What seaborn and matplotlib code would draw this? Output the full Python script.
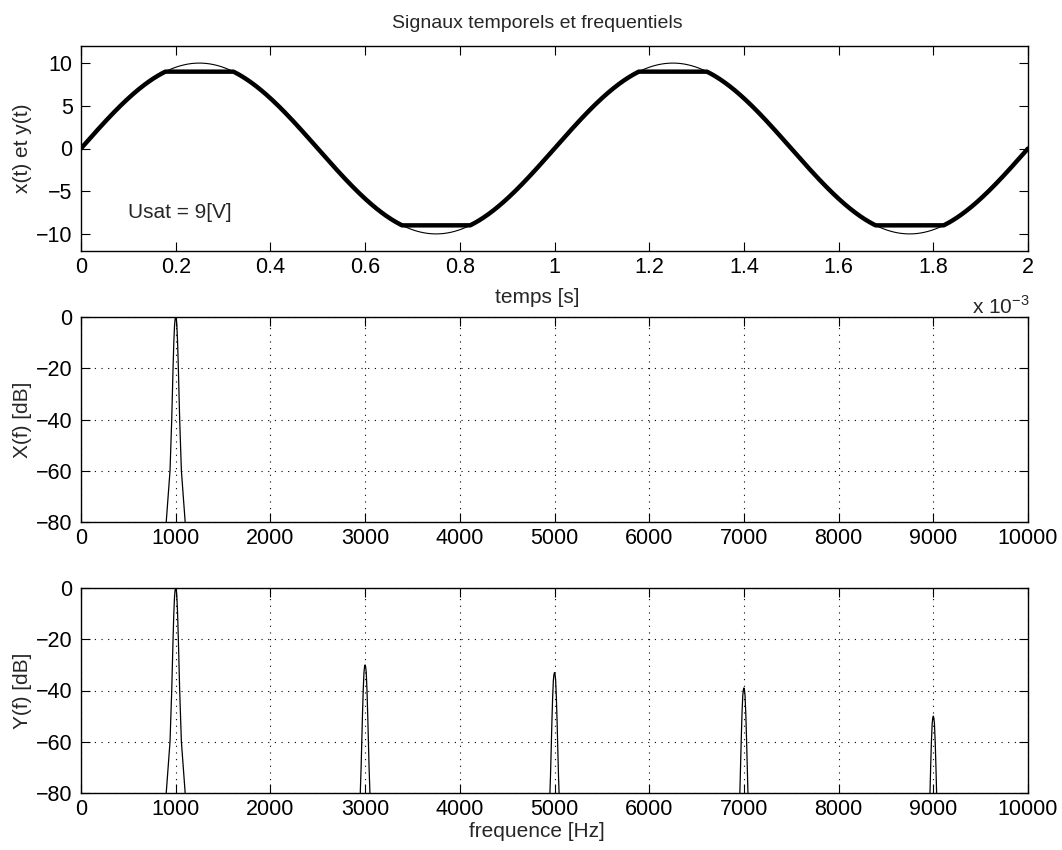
import numpy as np
import pandas as pd
import matplotlib
matplotlib.use("Agg")
import matplotlib.pyplot as plt
import seaborn as sns

# Signal parameters (time axis in ms, labelled with a x 10^-3 multiplier)
AMPLITUDE = 10.0        # peak of x(t) [V]
PERIOD_MS = 1.0         # 1 kHz sine
USAT = 9.0              # saturation level of y(t) [V]
T_END_MS = 2.0

# Spectral lines of the saturated signal: harmonic frequency [Hz] and level [dB]
X_PEAK_FREQS = [1000]
X_PEAK_LEVELS = [0]
Y_PEAK_FREQS = [1000, 3000, 5000, 7000, 9000]
Y_PEAK_LEVELS = [0, -30, -33, -39, -50]

# Shape of one spectral lobe: offset from the line [Hz] and drop from its top [dB]
LOBE_OFFSET_HZ = [-100, -60, -42, -35, -28, -20, -12, -6, 0, 6, 12, 20, 28, 35, 42, 60, 100]
LOBE_DROP_DB = [-80, -60, -40, -30, -20, -10, -3, -0.8, 0, -0.8, -3, -10, -20, -30, -40, -60, -80]

TIME_TICKS = [0, 0.2, 0.4, 0.6, 0.8, 1.0, 1.2, 1.4, 1.6, 1.8, 2.0]
TIME_TICK_LABELS = ["0", "0.2", "0.4", "0.6", "0.8", "1", "1.2", "1.4", "1.6", "1.8", "2"]
AMP_TICKS = [-10, -5, 0, 5, 10]
FREQ_TICKS = [0, 1000, 2000, 3000, 4000, 5000, 6000, 7000, 8000, 9000, 10000]
DB_TICKS = [-80, -60, -40, -20, 0]

sns.set_style("white")
plt.rcParams["font.family"] = ["Liberation Sans", "DejaVu Sans"]
plt.rcParams["font.size"] = 15
plt.rcParams["axes.unicode_minus"] = True

TICK_FS = 15.5
LABEL_FS = 15

W, H = 1062, 850
fig = plt.figure(figsize=(W / 100, H / 100), dpi=100)


def axes_box(top_px, bottom_px, left_px=81, right_px=1028):
    return [left_px / W, 1 - bottom_px / H, (right_px - left_px) / W, (bottom_px - top_px) / H]


ax_t = fig.add_axes(axes_box(46, 251))
ax_x = fig.add_axes(axes_box(317, 522))
ax_y = fig.add_axes(axes_box(588, 793))


def style_axes(ax):
    for s in ax.spines.values():
        s.set_visible(True)
        s.set_color("black")
        s.set_linewidth(1.0)
    ax.tick_params(direction="in", length=6.5, width=0.8, top=True, right=True,
                   bottom=True, left=True, labelsize=TICK_FS, colors="black")
    ax.tick_params(axis="x", pad=4)
    ax.tick_params(axis="y", pad=6)


# ---- time domain ----
t = np.linspace(0, T_END_MS, 2001)
x_t = AMPLITUDE * np.sin(2 * np.pi * t / PERIOD_MS)
y_t = np.clip(x_t, -USAT, USAT)
df_t = pd.DataFrame({"t": t, "x": x_t, "y": y_t})

sns.lineplot(data=df_t, x="t", y="x", ax=ax_t, color="black", linewidth=0.8,
             estimator=None, sort=False)
sns.lineplot(data=df_t, x="t", y="y", ax=ax_t, color="black", linewidth=3.2,
             estimator=None, sort=False)
ax_t.set_xlim(0, T_END_MS)
ax_t.set_ylim(-12, 12)
ax_t.set_xticks(TIME_TICKS)
ax_t.set_xticklabels(TIME_TICK_LABELS)
ax_t.set_yticks(AMP_TICKS)
style_axes(ax_t)
ax_t.text(0.1, -7.5, f"Usat = {USAT:g}[V]", fontsize=LABEL_FS, va="center", ha="left")
ax_t.set_xlabel("temps [s]", fontsize=LABEL_FS, va="center")
ax_t.xaxis.set_label_coords(0.4815, -0.228)
ax_t.set_ylabel("x(t) et y(t)", fontsize=LABEL_FS, va="center", ha="center")
ax_t.yaxis.set_label_coords(-0.0623, 0.5)
ax_t.text(1.002, -0.27, r"x 10$^{\mathregular{-3}}$", transform=ax_t.transAxes,
          ha="right", va="center", fontsize=LABEL_FS)


# ---- frequency domain ----
def spectrum_frame(freqs, levels):
    rows = []
    for k, (f0, lv) in enumerate(zip(freqs, levels)):
        for off, drop in zip(LOBE_OFFSET_HZ, LOBE_DROP_DB):
            rows.append({"line": k, "f": f0 + off, "db": lv + drop})
    return pd.DataFrame(rows)


def draw_spectrum(ax, freqs, levels, ylabel):
    df = spectrum_frame(freqs, levels)
    sns.lineplot(data=df, x="f", y="db", units="line", estimator=None, sort=False,
                 ax=ax, color="black", linewidth=0.9)
    ax.set_xlim(0, 10000)
    ax.set_ylim(-80, 0)
    ax.set_xticks(FREQ_TICKS)
    ax.set_yticks(DB_TICKS)
    style_axes(ax)
    ax.grid(True, color="black", linestyle=(0, (1, 5)), linewidth=0.8)
    ax.set_axisbelow(True)
    ax.set_ylabel(ylabel, fontsize=LABEL_FS, va="center", ha="center")
    ax.yaxis.set_label_coords(-0.0623, 0.5)


draw_spectrum(ax_x, X_PEAK_FREQS, X_PEAK_LEVELS, "X(f) [dB]")
ax_x.set_xlabel("")
draw_spectrum(ax_y, Y_PEAK_FREQS, Y_PEAK_LEVELS, "Y(f) [dB]")
ax_y.set_xlabel("frequence [Hz]", fontsize=LABEL_FS, va="center")
ax_y.xaxis.set_label_coords(0.4815, -0.19)

fig.text(537 / W, 1 - 23 / H, "Signaux temporels et frequentiels", ha="center",
         va="center", fontsize=14)

fig.savefig("out.png", dpi=100, facecolor="white")
